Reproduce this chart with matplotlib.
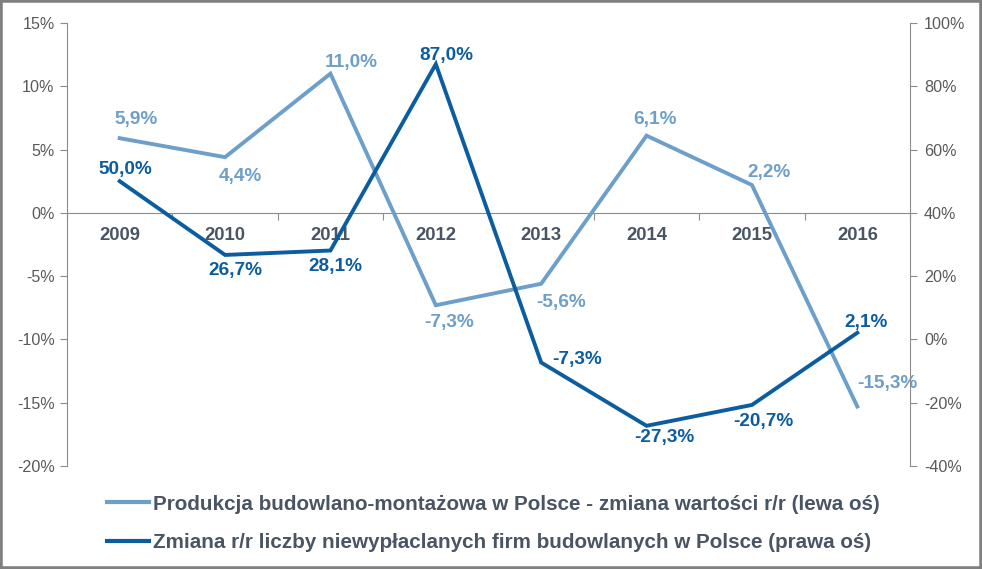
import numpy as np
import matplotlib
matplotlib.use('Agg')
import matplotlib.pyplot as plt
from matplotlib.patches import Rectangle

years = ['2009', '2010', '2011', '2012', '2013', '2014', '2015', '2016']
produkcja = [5.9, 4.4, 11.0, -7.3, -5.6, 6.1, 2.2, -15.3]
firmy = [50.0, 26.7, 28.1, 87.0, -7.3, -27.3, -20.7, 2.1]
legend_labels = ['Produkcja budowlano-montażowa w Polsce - zmiana wartości r/r (lewa oś)',
                 'Zmiana r/r liczby niewypłaclanych firm budowlanych w Polsce (prawa oś)']

# label offsets (pixels)
off_light = [(16, 19), (15, -19), (21, 11), (13, -17), (20, -19), (8, 16), (17, 13), (30, 23)]
off_dark = [(6, 12), (10, -16), (5, -16), (11, 9), (36, 3), (18, -12), (11, -17), (9, 10)]

light = '#6C9FC9'
dark = '#0C5D9F'
tickc = '#595959'
textc = '#4A5563'
spinec = '#8C8C8C'

plt.rcParams['font.family'] = ['Liberation Sans', 'DejaVu Sans']

def pct(v):
    return ('%.1f%%' % v).replace('.', ',')

def main():
    fig = plt.figure(figsize=(9.82, 5.69), dpi=100)
    ax = fig.add_axes([67/982, 1-466/569, (910-67)/982, (466-23)/569])
    ax2 = ax.twinx()

    x = np.arange(len(years))
    ax.plot(x, produkcja, color=light, lw=2.8, solid_joinstyle='miter', zorder=3)
    ax2.plot(x, firmy, color=dark, lw=2.8, solid_joinstyle='miter', zorder=3)

    for i in range(len(years)):
        ax.annotate(pct(produkcja[i]), (x[i], produkcja[i]), xytext=off_light[i],
                    textcoords='offset pixels', ha='center', va='center',
                    color=light, fontsize=13.7, fontweight='bold')
        ax2.annotate(pct(firmy[i]), (x[i], firmy[i]), xytext=off_dark[i],
                     textcoords='offset pixels', ha='center', va='center',
                     color=dark, fontsize=13.7, fontweight='bold')

    ax.set_xlim(-0.5, len(years) - 0.5)
    ax.set_ylim(-20, 15)
    ax2.set_ylim(-40, 100)
    ax.set_yticks(np.arange(-20, 16, 5))
    ax.set_yticklabels(['%d%%' % v for v in np.arange(-20, 16, 5)])
    ax2.set_yticks(np.arange(-40, 101, 20))
    ax2.set_yticklabels(['%d%%' % v for v in np.arange(-40, 101, 20)])

    for a in (ax, ax2):
        a.spines['top'].set_visible(False)
        for s in a.spines.values():
            s.set_color(spinec)
    ax.spines['right'].set_visible(False)
    ax2.spines['left'].set_visible(False)
    ax2.spines['bottom'].set_visible(False)
    ax.spines['bottom'].set_position(('data', 0))

    ax.set_xticks(np.arange(-0.5, len(years)), minor=False)
    ax.set_xticklabels([])
    ax.set_xticks(x, minor=True)
    ax.set_xticklabels(years, minor=True)
    ax.tick_params(axis='x', which='major', length=5, color=spinec, direction='out')
    ax.tick_params(axis='x', which='minor', length=0, pad=10, labelsize=13.3,
                   labelcolor=textc)
    for t in ax.get_xticklabels(minor=True):
        t.set_fontweight('bold')
    ax.tick_params(axis='y', length=5, color=spinec, labelsize=11.6, labelcolor=tickc, pad=4)
    ax2.tick_params(axis='y', length=5, color=spinec, labelsize=11.6, labelcolor=tickc, pad=5)

    h1 = plt.Line2D([], [], color=light, lw=3)
    h2 = plt.Line2D([], [], color=dark, lw=3)
    leg = fig.legend([h1, h2], legend_labels, loc='center',
                     bbox_to_anchor=(0.5025, 1-523.5/569), frameon=False,
                     handlelength=2.05, handletextpad=0.2, labelspacing=0.95,
                     prop={'size': 14.9, 'weight': 'bold'})
    for t in leg.get_texts():
        t.set_color(textc)

    fig.add_artist(Rectangle((0, 0), 1, 1, transform=fig.transFigure, fill=False,
                             edgecolor='#808080', lw=4))
    fig.savefig('out.png', dpi=100)

if __name__ == '__main__':
    main()
